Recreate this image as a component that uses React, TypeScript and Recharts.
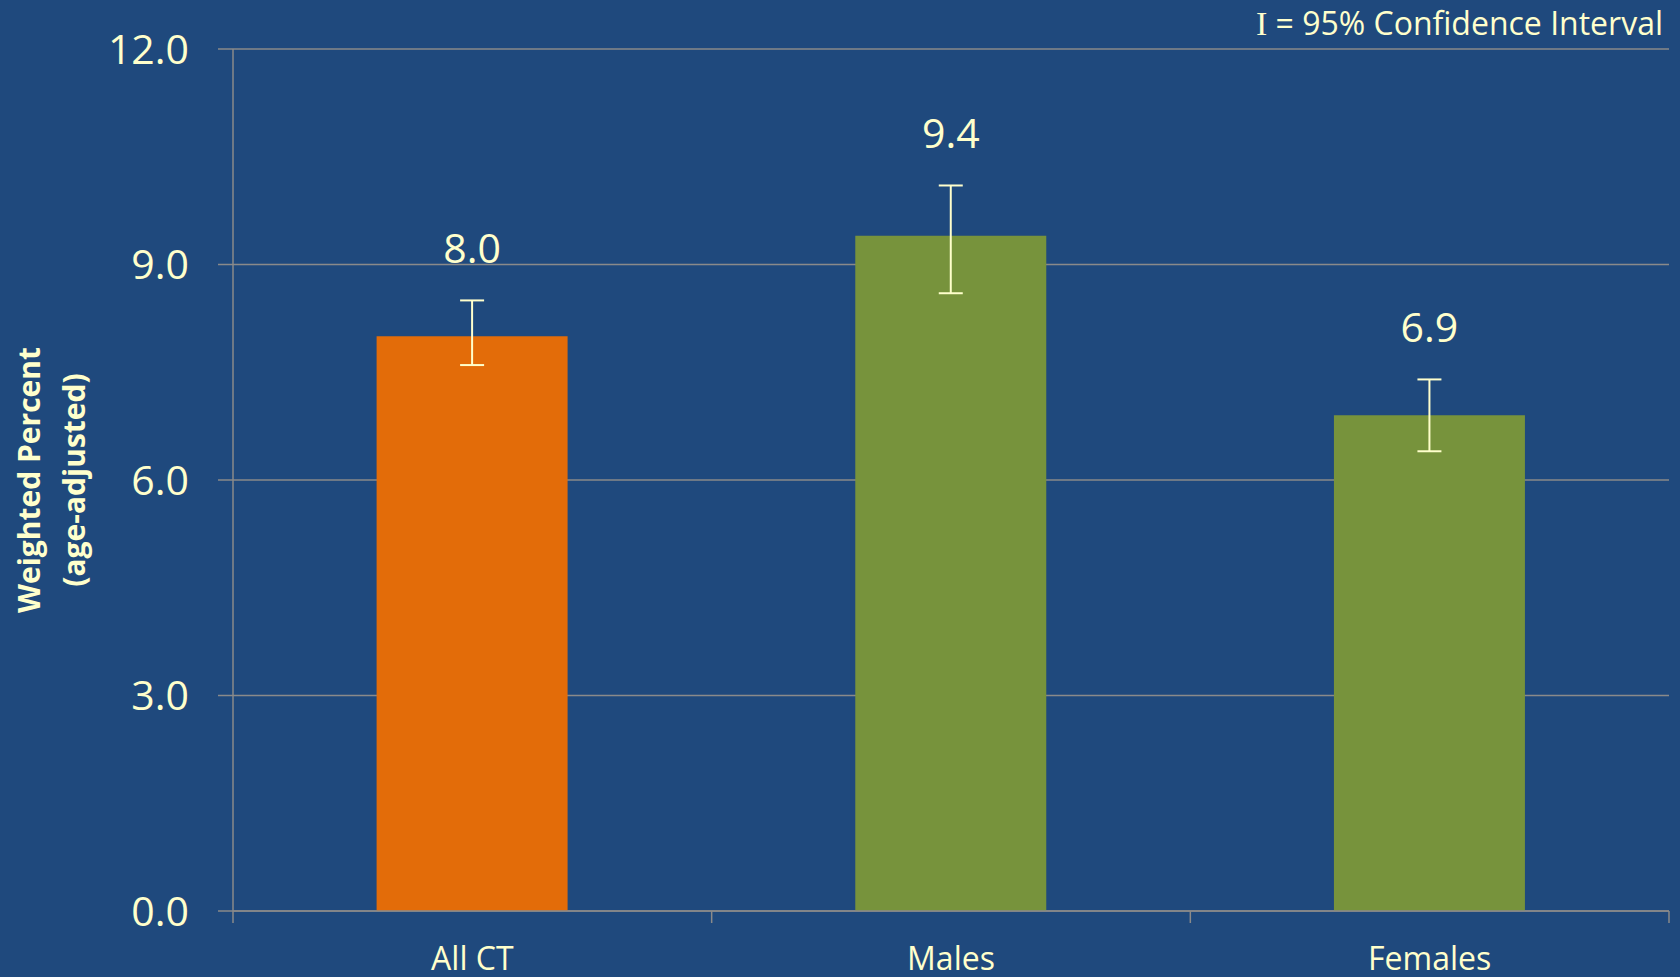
import React from "react";
import { BarChart, Bar, XAxis, YAxis, CartesianGrid, ErrorBar, LabelList, Cell, Label } from "recharts";

const categories = ["All CT", "Males", "Females"];
const values = [8.0, 9.4, 6.9];
const ciLow = [7.6, 8.6, 6.4];
const ciHigh = [8.5, 10.1, 7.4];
const barColors = ["#E36C09", "#77933C", "#77933C"];
const yTicks = [0, 3, 6, 9, 12];

const BG = "#1F497D";
const TXT = "#FFFFCC";
const GRID = "#8A8A8A";
const FONT = "'Open Sans', 'Noto Sans', sans-serif";

const data = categories.map((c, i) => ({
  name: c,
  value: values[i],
  err: [values[i] - ciLow[i], ciHigh[i] - values[i]],
}));

const ValueLabel = (props: any) => {
  const { x, y, width, height, value, index } = props;
  const perUnit = height / value;
  const upperY = y - (ciHigh[index] - value) * perUnit;
  return (
    <text
      x={x + width / 2}
      y={upperY - 37}
      textAnchor="middle"
      fill={TXT}
      fontSize={41}
      fontFamily={FONT}
    >
      {Number(value).toFixed(1)}
    </text>
  );
};

const CatTick = (props: any) => {
  const { x, y, payload, index, visibleTicksCount } = props;
  const half = payload && typeof payload.offset === "number" ? payload.offset : 0;
  const isLast = index === (visibleTicksCount ?? categories.length) - 1;
  return (
    <g>
      <line x1={x - half} x2={x - half} y1={y} y2={y + 12} stroke={GRID} strokeWidth={1.5} />
      {isLast && (
        <line x1={x + half} x2={x + half} y1={y} y2={y + 12} stroke={GRID} strokeWidth={1.5} />
      )}
      <text x={x} y={y + 59} textAnchor="middle" fill={TXT} fontSize={32} fontFamily={FONT}>
        {payload.value}
      </text>
    </g>
  );
};

const YLabel = () => (
  <g>
    <text
      transform="translate(40,480) rotate(-90)"
      textAnchor="middle"
      fill={TXT}
      fontSize={30}
      fontWeight="bold"
      fontFamily={FONT}
    >
      Weighted Percent
    </text>
    <text
      transform="translate(85,480) rotate(-90)"
      textAnchor="middle"
      fill={TXT}
      fontSize={30}
      fontWeight="bold"
      fontFamily={FONT}
    >
      (age-adjusted)
    </text>
  </g>
);

export default function App() {
  return (
    <div style={{ position: "absolute", left: 0, top: 0, width: 1680, height: 977, background: BG, overflow: "hidden" }}>
      <BarChart
        width={1680}
        height={977}
        data={data}
        margin={{ top: 49, right: 11, bottom: 0, left: 0 }}
        barCategoryGap="30%"
      >
        <CartesianGrid horizontal={true} vertical={false} stroke={GRID} strokeWidth={1.5} />
        <XAxis
          dataKey="name"
          type="category"
          height={66}
          axisLine={{ stroke: GRID, strokeWidth: 1.5 }}
          tickLine={false}
          tickSize={0}
          tickMargin={0}
          tick={<CatTick />}
          interval={0}
        />
        <YAxis
          type="number"
          domain={[0, 12]}
          ticks={yTicks}
          width={233}
          tickSize={15}
          tickMargin={29}
          tickFormatter={(v: number) => v.toFixed(1)}
          tick={{ fill: TXT, fontSize: 41, fontFamily: FONT }}
          axisLine={{ stroke: GRID, strokeWidth: 1.5 }}
          tickLine={{ stroke: GRID, strokeWidth: 1.5 }}
        >
          <Label content={<YLabel />} />
        </YAxis>
        <Bar dataKey="value" isAnimationActive={false}>
          {data.map((d, i) => (
            <Cell key={d.name} fill={barColors[i]} />
          ))}
          <ErrorBar dataKey="err" width={12} stroke={TXT} strokeWidth={2} direction="y" />
          <LabelList dataKey="value" content={<ValueLabel />} />
        </Bar>
      </BarChart>
      <svg style={{ position: "absolute", left: 0, top: 0 }} width={1680} height={60}>
        <text x={1663} y={35} textAnchor="end" fill={TXT} fontSize={32} fontFamily={FONT}>
          <tspan fontFamily="'Liberation Serif', serif" fontSize={34}>I</tspan>
          <tspan> = 95% Confidence Interval</tspan>
        </text>
      </svg>
    </div>
  );
}
